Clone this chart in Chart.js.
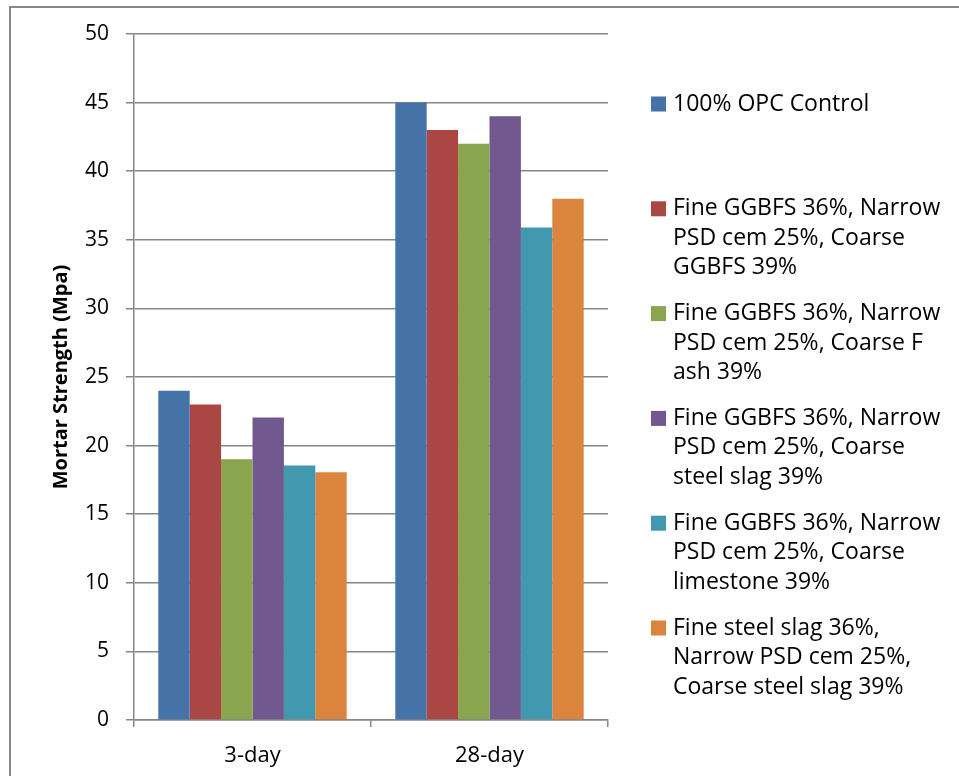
<!DOCTYPE html>
<html>
<head>
<meta charset="utf-8">
<script src="https://cdn.jsdelivr.net/npm/chart.js@4.4.1/dist/chart.umd.min.js"></script>
<style>
  html, body { margin: 0; padding: 0; background: #ffffff; }
  #wrap { width: 959px; height: 776px; }
</style>
</head>
<body>
<div id="wrap"><canvas id="c" width="959" height="776"></canvas></div>
<script>
// Curing ages on the category axis
const categories = ['3-day', '28-day'];

// Mix designs (legend lines as wrapped)
const seriesNames = [
  ['100% OPC Control'],
  ['Fine GGBFS 36%, Narrow', 'PSD cem 25%, Coarse', 'GGBFS 39%'],
  ['Fine GGBFS 36%, Narrow', 'PSD cem 25%, Coarse F', 'ash 39%'],
  ['Fine GGBFS 36%, Narrow', 'PSD cem 25%, Coarse', 'steel slag 39%'],
  ['Fine GGBFS 36%, Narrow', 'PSD cem 25%, Coarse', 'limestone 39%'],
  ['Fine steel slag 36%,', 'Narrow PSD cem 25%,', 'Coarse steel slag 39%']
];

// Mortar strength (MPa) at 3 and 28 days
const opcControl      = [24.0, 45.0];
const ggbfsCoarse     = [23.0, 43.0];
const flyAshCoarse    = [19.0, 42.0];
const steelSlagCoarse = [22.05, 44.0];
const limestoneCoarse = [18.55, 35.9];
const allSteelSlag    = [18.05, 38.0];

const yTicks = [0, 5, 10, 15, 20, 25, 30, 35, 40, 45, 50];

const seriesValues = [opcControl, ggbfsCoarse, flyAshCoarse, steelSlagCoarse, limestoneCoarse, allSteelSlag];
const seriesColors = ['#4572A7', '#AA4643', '#89A54E', '#71588F', '#4198AF', '#DB843D'];

const FONT = 'Open Sans';
const GRID = '#868686';

// Outer frame of the chart object
const framePlugin = {
  id: 'frame',
  beforeDraw(chart) {
    const ctx = chart.ctx;
    ctx.save();
    ctx.fillStyle = '#ffffff';
    ctx.fillRect(0, 0, chart.width, chart.height);
    ctx.strokeStyle = GRID;
    ctx.lineWidth = 2;
    ctx.beginPath();
    ctx.moveTo(10, chart.height + 5);
    ctx.lineTo(10, 7);
    ctx.lineTo(chart.width + 5, 7);
    ctx.stroke();
    ctx.restore();
  }
};

// Legend on the right with wrapped multi-line entries
const sideLegend = {
  id: 'sideLegend',
  afterDraw(chart) {
    const ctx = chart.ctx;
    const area = chart.chartArea;
    const boxX = area.right + 43;
    const textX = boxX + 22;
    const slot = 104.8;
    const lineH = 29.5;
    let y0 = 104;
    ctx.save();
    ctx.font = '23px "' + FONT + '"';
    ctx.textBaseline = 'middle';
    ctx.fillStyle = '#000000';
    chart.data.datasets.forEach((ds, i) => {
      const lines = seriesNames[i];
      const y = y0 + i * slot;
      ctx.fillStyle = ds.backgroundColor;
      ctx.fillRect(boxX, y - 7.5, 15, 15);
      ctx.fillStyle = '#000000';
      lines.forEach((ln, j) => ctx.fillText(ln, textX, y + j * lineH));
    });
    ctx.restore();
  }
};

new Chart(document.getElementById('c'), {
  type: 'bar',
  data: {
    labels: categories,
    datasets: seriesValues.map((vals, i) => ({
      label: seriesNames[i].join(' '),
      data: vals,
      backgroundColor: seriesColors[i],
      borderWidth: 0,
      categoryPercentage: 0.795,
      barPercentage: 1.0
    }))
  },
  options: {
    responsive: false,
    animation: false,
    devicePixelRatio: 1,
    layout: { padding: { left: 0, right: 351, top: 34, bottom: 0 } },
    plugins: {
      legend: { display: false },
      tooltip: { enabled: false }
    },
    scales: {
      x: {
        offset: true,
        grid: {
          display: true,
          offset: true,
          drawOnChartArea: false,
          drawTicks: true,
          tickLength: 7,
          color: GRID,
          lineWidth: 1.5
        },
        border: { color: GRID, width: 1.5 },
        ticks: {
          color: '#000000',
          font: { family: FONT, size: 22 },
          padding: 16
        },
        afterFit(scale) { scale.height = 56; }
      },
      y: {
        min: 0,
        max: 50,
        afterBuildTicks(scale) { scale.ticks = yTicks.map(v => ({ value: v })); },
        grid: {
          color: GRID,
          lineWidth: 1.5,
          tickLength: 8,
          drawTicks: true
        },
        border: { color: GRID, width: 1.5 },
        ticks: {
          color: '#000000',
          font: { family: FONT, size: 21 },
          padding: 17
        },
        title: {
          display: true,
          text: 'Mortar Strength (Mpa)',
          color: '#000000',
          font: { family: FONT, size: 20, weight: 'bold' },
          padding: { top: 49, bottom: 0 }
        },
        afterFit(scale) { scale.width = 134; }
      }
    }
  },
  plugins: [framePlugin, sideLegend]
});
</script>
</body>
</html>
